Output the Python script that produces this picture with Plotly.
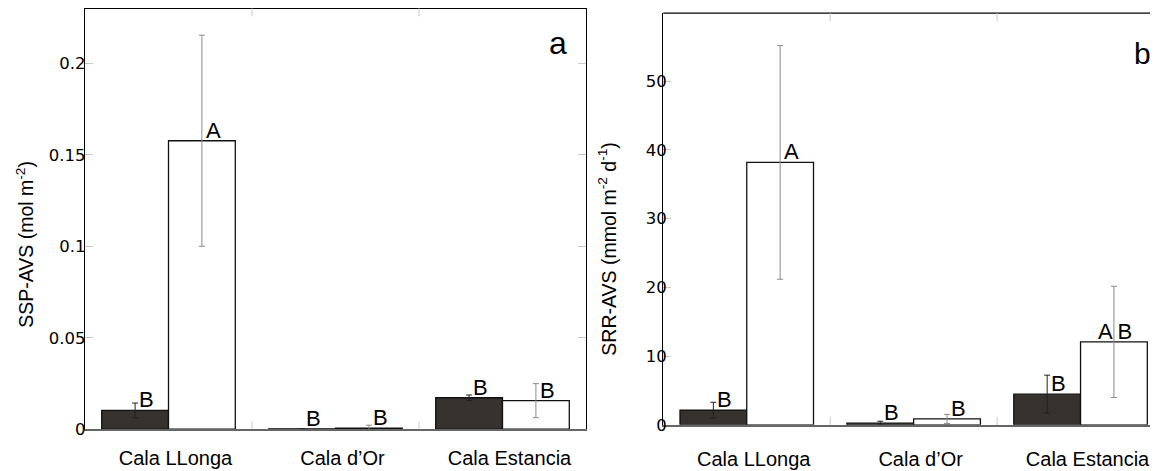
import plotly.graph_objects as go

# ---------------- data ----------------
categories = ["Cala LLonga", "Cala d\u2019Or", "Cala Estancia"]

ssp_dark = [0.0103, 0.0002, 0.0172]
ssp_dark_err = [0.0040, 0.0, 0.0015]
ssp_white = [0.1577, 0.0006, 0.0156]
ssp_white_err = [0.0577, 0.0016, 0.0093]
ssp_dark_letters = ["B", "B", "B"]
ssp_white_letters = ["A", "B", "B"]

srr_dark = [2.14, 0.24, 4.46]
srr_dark_err = [1.14, 0.28, 2.76]
srr_white = [38.18, 0.85, 12.06]
srr_white_err = [17.0, 0.67, 8.1]
srr_dark_letters = ["B", "B", "B"]
srr_white_letters = ["A", "B", "A B"]

ssp_ticks = [0, 0.05, 0.1, 0.15, 0.2]
ssp_ticktext = ["0", "0.05", "0.1", "0.15", "0.2"]
srr_ticks = [0, 10, 20, 30, 40, 50]

# ---------------- style ----------------
SW, SH = 1158, 471          # browser window
OFF = 8                     # default body margin of the html page
W, H = SW - OFF, SH - OFF   # figure size

def px_x(xs):               # screen x -> paper fraction
    return (xs - OFF) / W

def px_y(ys):               # screen y -> paper fraction
    return (SH - ys) / H

FONT = "Liberation Sans, Arial, Helvetica, sans-serif"
TICKFONT = "DejaVu Sans, Liberation Sans, Arial, sans-serif"
DARK = "#35322f"
STUB = "#c8c8c8"
BARGAP = 0.2
BW = (1 - BARGAP) / 2  # width of each bar in category units

xpos = list(range(len(categories)))

fig = go.Figure()

panels = [
    dict(xa="x", ya="y", dark=ssp_dark, de=ssp_dark_err, white=ssp_white, we=ssp_white_err,
         dl=ssp_dark_letters, wl=ssp_white_letters),
    dict(xa="x2", ya="y2", dark=srr_dark, de=srr_dark_err, white=srr_white, we=srr_white_err,
         dl=srr_dark_letters, wl=srr_white_letters),
]

annotations = []
shapes = []
for p in panels:
    fig.add_trace(go.Bar(
        x=xpos, y=p["dark"], xaxis=p["xa"], yaxis=p["ya"],
        marker=dict(color=DARK, line=dict(color="#111111", width=1.3)),
        error_y=dict(type="data", array=p["de"], color="#222222", thickness=1, width=3),
        showlegend=False))
    fig.add_trace(go.Bar(
        x=xpos, y=p["white"], xaxis=p["xa"], yaxis=p["ya"],
        marker=dict(color="white", line=dict(color="#111111", width=1.3)),
        error_y=dict(type="data", array=p["we"], color="#8a8a8a", thickness=1, width=3),
        showlegend=False))
    for i in xpos:
        for off, val, lab in ((-BW / 2, p["dark"][i], p["dl"][i]), (BW / 2, p["white"][i], p["wl"][i])):
            centered = " " in lab
            annotations.append(dict(
                x=i + off, y=val, xref=p["xa"], yref=p["ya"], text=lab, showarrow=False,
                xanchor="center" if centered else "left", yanchor="bottom",
                xshift=1 if centered else 2, yshift=-4,
                font=dict(family=FONT, size=22, color="black")))
    xd = p["xa"] + " domain"
    yd = p["ya"] + " domain"
    # top border
    shapes.append(dict(type="line", xref=xd, yref=yd, x0=0, x1=1, y0=1, y1=1,
                       line=dict(color="black", width=1.3)))
    # category boundary stubs (bottom & top)
    for b in (0.5, 1.5):
        shapes.append(dict(type="line", xref=p["xa"], yref=yd, x0=b, x1=b, y0=0, y1=8,
                           ysizemode="pixel", yanchor=0, line=dict(color=STUB, width=1)))
        shapes.append(dict(type="line", xref=p["xa"], yref=yd, x0=b, x1=b, y0=-8, y1=0,
                           ysizemode="pixel", yanchor=1, line=dict(color=STUB, width=1)))

axis_font = dict(family=TICKFONT, size=16.5, color="black")
cat_font = dict(family=FONT, size=20, color="black")

def xaxis(domain, rng, anchor, standoff):
    return dict(domain=domain, range=rng, anchor=anchor, tickmode="array", tickvals=xpos,
                ticktext=categories, ticks="", showgrid=False, zeroline=False,
                showline=True, linecolor="#666666", linewidth=1.6,
                tickfont=cat_font, ticklabelshift=7, ticklabelstandoff=standoff)

def yaxis(domain, rng, anchor, tickvals, ticktext, mirror, standoff):
    return dict(domain=domain, range=rng, anchor=anchor, tickmode="array",
                tickvals=tickvals, ticktext=ticktext, ticks="inside", ticklen=8,
                tickcolor=STUB, tickwidth=1, showgrid=False, zeroline=False,
                showline=True, linecolor="black", linewidth=1.3, mirror=mirror,
                tickfont=axis_font, ticklabelstandoff=standoff)

fig.update_layout(
    width=W, height=H,
    margin=dict(l=0, r=0, t=0, b=0),
    paper_bgcolor="white", plot_bgcolor="white",
    barmode="group", bargap=BARGAP, bargroupgap=0,
    font=dict(family=FONT, color="black"),
    xaxis=xaxis([px_x(85), px_x(586)], [-0.5, 2.5], "y", 10),
    yaxis=yaxis([px_y(438.5), min(1.0, px_y(8.3))], [0, 0.2301], "x",
                ssp_ticks, ssp_ticktext, "ticks", -5),
    xaxis2=xaxis([px_x(663.3), 1.0], [-0.5, 2.5 - 6 / 167], "y2", 15),
    yaxis2=yaxis([px_y(434), px_y(13.3)], [0, 59.9], "x2",
                 srr_ticks, [str(t) for t in srr_ticks], False, -8),
    shapes=shapes,
)

# axis titles and panel letters
annotations += [
    dict(text="SSP-AVS (mol m<sup>-2</sup>)", x=px_x(25), y=px_y(250), xref="paper", yref="paper",
         textangle=-90, showarrow=False, xanchor="center", yanchor="middle",
         font=dict(family=FONT, size=19.5, color="black")),
    dict(text="SRR-AVS (mmol m<sup>-2</sup> d<sup>-1</sup>)", x=px_x(607.5), y=px_y(254.5),
         xref="paper", yref="paper", textangle=-90, showarrow=False,
         xanchor="center", yanchor="middle", font=dict(family=FONT, size=19.5, color="black")),
    dict(text="a", x=px_x(558), y=px_y(44), xref="paper", yref="paper", showarrow=False,
         xanchor="center", yanchor="middle", font=dict(family=FONT, size=32, color="black")),
    dict(text="b", x=px_x(1142.5), y=px_y(54), xref="paper", yref="paper", showarrow=False,
         xanchor="center", yanchor="middle", font=dict(family=FONT, size=30, color="black")),
]
fig.update_layout(annotations=annotations)

fig.write_html("out.html")
